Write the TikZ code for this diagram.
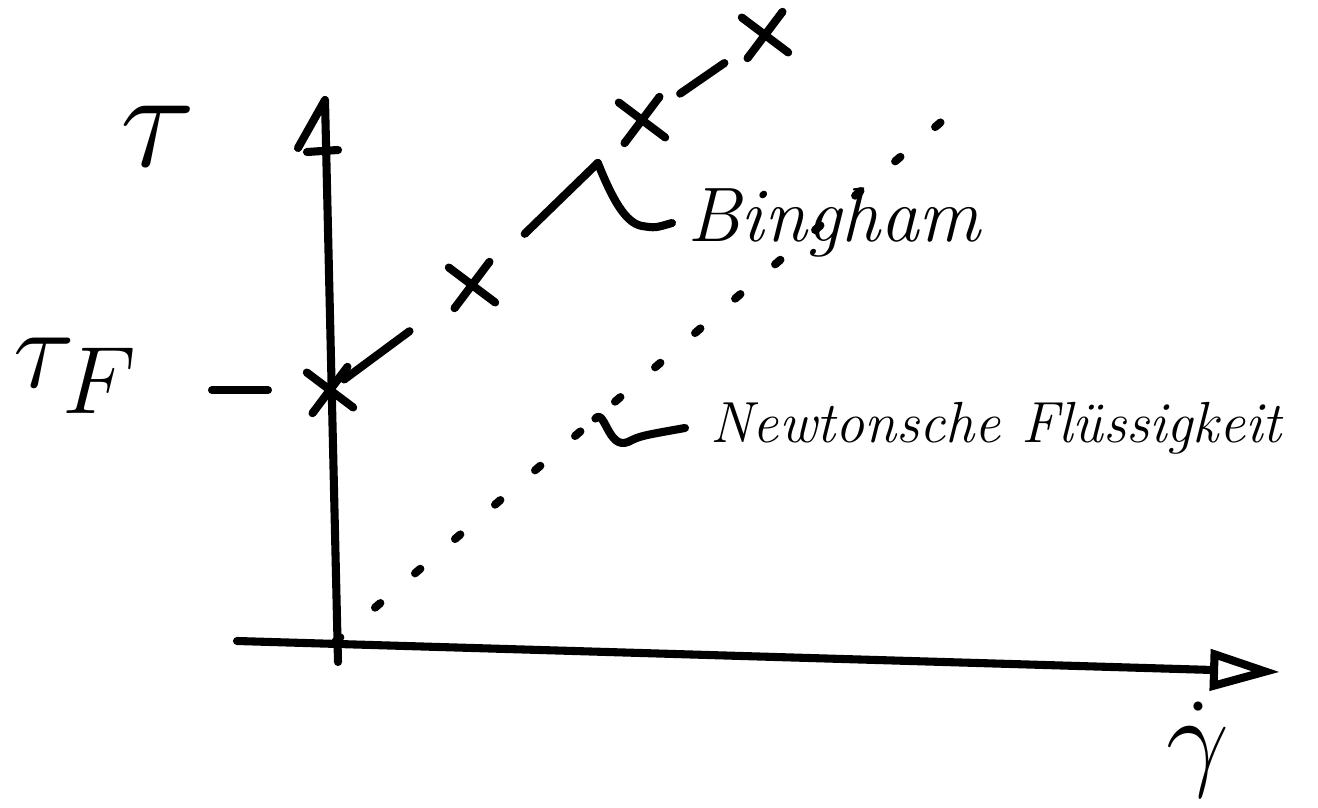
\documentclass[tikz,border=0pt]{standalone}
\usetikzlibrary{arrows.meta,calc,shapes.misc}
\begin{document}
\begin{tikzpicture}[line width=2.3pt,line cap=round,line join=round,
  >={Triangle[open,length=7mm,width=4mm]},
  crossmark/.style={draw,cross out,minimum size=3.3mm,inner sep=0pt,
    line width=2.3pt,rotate=8},
  hand/.style={font=\fontsize{22}{26}\selectfont\itshape},
  sym/.style={font=\Huge,scale=1.6}]
  \useasboundingbox (0,0) rectangle (13.18,8.08);

  % axes
  \coordinate (O) at (3.35,1.66);
  \coordinate (ytop) at (3.25,7.08);
  \coordinate (xend) at (12.8,1.36);
  \draw (3.38,1.46) -- (ytop) -- (2.98,6.60);
  \draw (3.07,6.56) -- (3.38,6.58);
  \draw[->] (2.37,1.67) -- (xend);
  \node[sym] (tau) at (1.58,6.72) {$\tau$};
  \node[sym,scale=.8] (gdot) at (11.98,0.58) {$\dot\gamma$};

  % yield stress
  \draw (2.12,4.18) -- (2.68,4.18);
  \node[sym,scale=.82] (tauF) at (0.76,4.32) {$\tau_F$};

  % Bingham: crosses on a broken line
  \node[crossmark] (c0) at (3.30,4.18) {};
  \node[crossmark] (c1) at (4.72,5.23) {};
  \node[crossmark] (c2) at (6.42,6.88) {};
  \node[crossmark] (c3) at (7.65,7.73) {};
  \draw ($(c0.center)!.10!(c1.center)$) -- ($(c0.center)!.56!(c1.center)$);
  \draw ($(c1.center)!.31!(c2.center)$) -- ($(c1.center)!.74!(c2.center)$)
    coordinate (bl);
  \draw ($(c2.center)!.31!(c3.center)$) -- ($(c2.center)!.67!(c3.center)$);
  \node[hand,anchor=west] (bingham) at (6.72,5.85) {Bingham};
  \draw (bl) .. controls (6.12,6.10) and (6.25,5.85)
    .. (6.42,5.82) .. controls (6.55,5.80) .. (bingham.west);

  % Newtonian fluid: dotted line through the origin
  \coordinate (nend) at (9.55,6.98);
  \draw[dash pattern=on 2pt off 13pt] (O) -- (nend);
  \coordinate (nl) at ($(O)!.42!(nend)$);
  \node[hand,font=\fontsize{16.5}{20}\selectfont\itshape,anchor=west,
    outer sep=4pt] (newton) at (6.85,3.80) {Newtonsche Flüssigkeit};
  \draw (nl) .. controls (6.05,4.00) and (6.08,3.58) .. (6.28,3.66)
    .. controls (6.40,3.72) .. (newton.west);
\end{tikzpicture}
\end{document}
